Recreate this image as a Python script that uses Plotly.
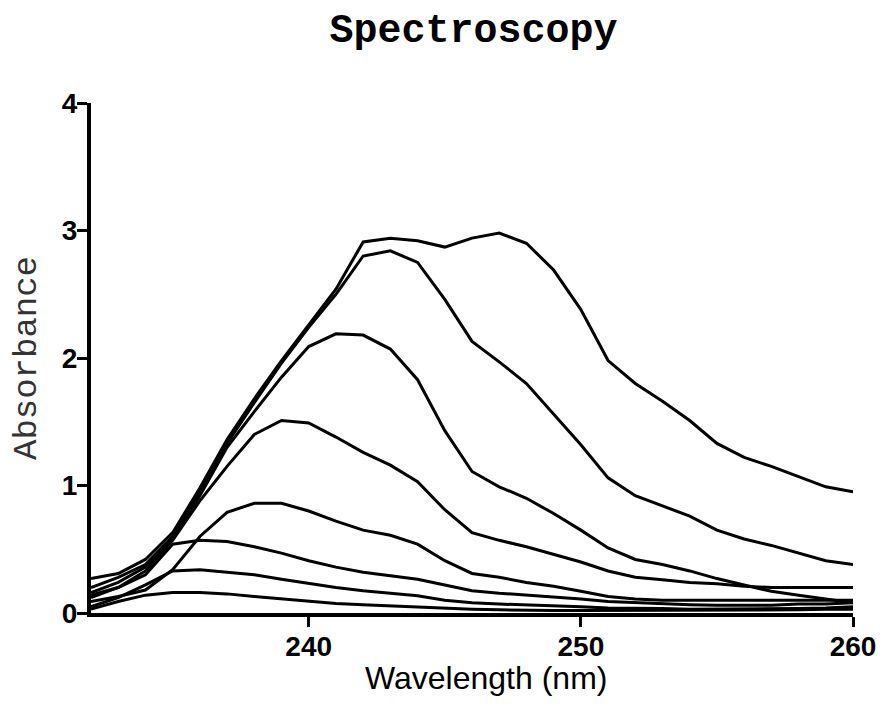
import plotly.graph_objects as go

# Wavelength grid (nm), 1 nm steps
wavelength = list(range(232, 261))

# Absorbance spectra, one list per sample
spec_a = [0.27, 0.31, 0.42, 0.63, 0.98, 1.36, 1.68, 1.98, 2.26, 2.54, 2.91, 2.94, 2.92, 2.87, 2.94,
          2.98, 2.90, 2.69, 2.38, 1.98, 1.80, 1.66, 1.51, 1.33, 1.22, 1.15, 1.07, 0.99, 0.95]
spec_b = [0.20, 0.28, 0.38, 0.60, 0.95, 1.33, 1.65, 1.96, 2.24, 2.50, 2.80, 2.84, 2.75, 2.46, 2.13,
          1.97, 1.80, 1.56, 1.32, 1.06, 0.92, 0.84, 0.76, 0.65, 0.58, 0.53, 0.47, 0.41, 0.38]
spec_c = [0.16, 0.24, 0.36, 0.58, 0.92, 1.30, 1.58, 1.85, 2.09, 2.19, 2.18, 2.07, 1.83, 1.43, 1.11,
          0.99, 0.90, 0.78, 0.65, 0.51, 0.42, 0.38, 0.33, 0.27, 0.22, 0.17, 0.14, 0.11, 0.08]
spec_d = [0.12, 0.20, 0.33, 0.57, 0.88, 1.15, 1.40, 1.51, 1.49, 1.38, 1.26, 1.16, 1.03, 0.81, 0.63,
          0.57, 0.52, 0.46, 0.40, 0.33, 0.28, 0.26, 0.24, 0.23, 0.21, 0.20, 0.20, 0.20, 0.20]
spec_e = [0.09, 0.13, 0.18, 0.34, 0.60, 0.79, 0.86, 0.86, 0.80, 0.72, 0.65, 0.61, 0.54, 0.41, 0.31,
          0.28, 0.24, 0.21, 0.17, 0.13, 0.11, 0.10, 0.10, 0.10, 0.10, 0.10, 0.10, 0.10, 0.10]
spec_f = [0.14, 0.20, 0.30, 0.54, 0.57, 0.56, 0.52, 0.47, 0.41, 0.36, 0.32, 0.29, 0.265, 0.22, 0.175,
          0.155, 0.14, 0.13, 0.11, 0.09, 0.08, 0.07, 0.065, 0.06, 0.06, 0.06, 0.07, 0.07, 0.08]
spec_g = [0.05, 0.12, 0.22, 0.33, 0.34, 0.32, 0.30, 0.265, 0.23, 0.20, 0.175, 0.155, 0.135, 0.10, 0.08,
          0.07, 0.065, 0.06, 0.05, 0.04, 0.04, 0.035, 0.03, 0.03, 0.03, 0.03, 0.035, 0.04, 0.05]
spec_h = [0.03, 0.09, 0.14, 0.16, 0.16, 0.15, 0.13, 0.11, 0.09, 0.075, 0.065, 0.055, 0.045, 0.04, 0.03,
          0.025, 0.02, 0.02, 0.02, 0.02, 0.02, 0.02, 0.02, 0.02, 0.02, 0.025, 0.025, 0.03, 0.03]

spectra = [spec_a, spec_b, spec_c, spec_d, spec_e, spec_f, spec_g, spec_h]

x_ticks = [240, 250, 260]
y_ticks = [0, 1, 2, 3, 4]

fig = go.Figure()
for s in spectra:
    fig.add_trace(go.Scatter(x=wavelength, y=s, mode="lines",
                             line=dict(color="black", width=3), showlegend=False,
                             hoverinfo="skip"))

tick_font = dict(family="Liberation Sans, Arial, sans-serif", size=28, color="black", weight="bold")

fig.update_layout(
    width=888, height=724,
    margin=dict(l=91, r=32, t=103, b=111),
    paper_bgcolor="white", plot_bgcolor="white",
    title=dict(text="Spectroscopy", x=(91 + 856) / 2 / 888, xanchor="center", y=0.962, yanchor="middle",
               font=dict(family="Liberation Mono, Courier New, monospace", size=40, color="black",
                         weight="bold")),
    xaxis=dict(range=[232, 260], tickvals=x_ticks, ticks="outside", ticklen=10, tickwidth=3,
               tickcolor="black", showline=True, linecolor="black", linewidth=4,
               showgrid=False, zeroline=False, tickfont=tick_font, ticklabelstandoff=-5),
    yaxis=dict(range=[0, 4], tickvals=y_ticks, ticks="outside", ticklen=10, tickwidth=3,
               tickcolor="black", showline=True, linecolor="black", linewidth=4,
               showgrid=False, zeroline=False, tickfont=tick_font, ticklabelstandoff=-6,
               title=dict(text="Absorbance", standoff=16,
                          font=dict(family="Liberation Mono, Courier New, monospace", size=34,
                                    color="#333333"))),
    annotations=[dict(text="Wavelength (nm)", xref="paper", yref="paper", x=0.519, y=-0.128,
                      xanchor="center", yanchor="middle", showarrow=False,
                      font=dict(family="Liberation Sans, Arial, sans-serif", size=32, color="black"))],
)

fig.write_html("out.html")
